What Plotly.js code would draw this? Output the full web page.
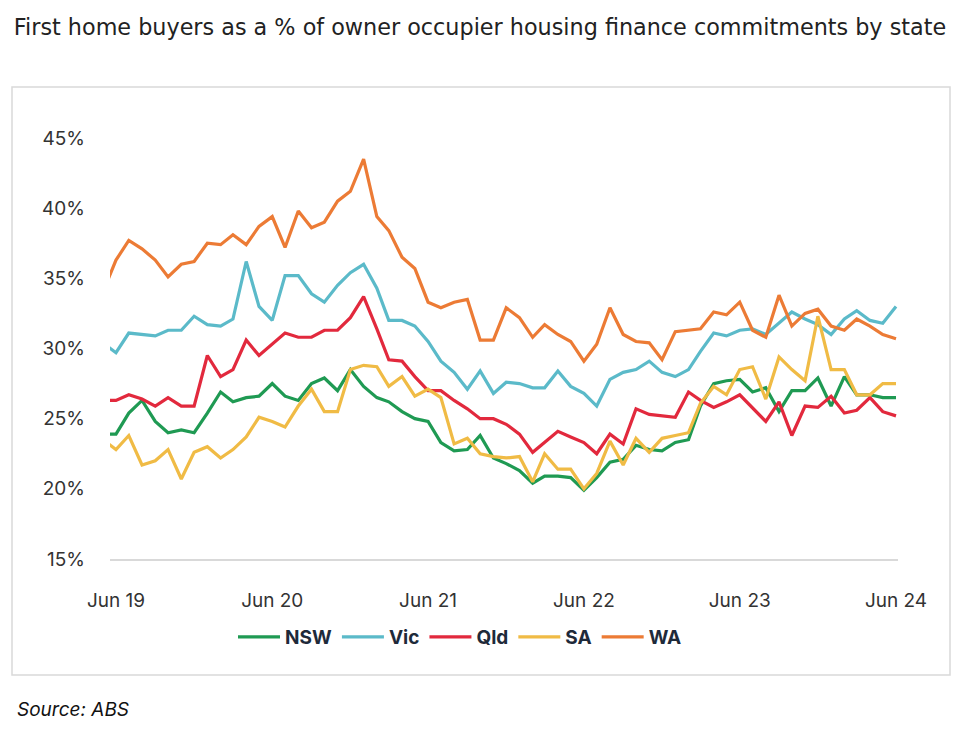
<!DOCTYPE html>
<html>
<head>
<meta charset="utf-8">
<script src="https://cdn.plot.ly/plotly-3.0.1.min.js"></script>
<style>
html, body { margin: 0; padding: 0; background: #ffffff; }
#chart { width: 966px; height: 738px; }
</style>
</head>
<body>
<div id="chart"></div>
<script>
// Monthly, May 2019 (partly clipped at left edge) to Jun 2024
const startYear = 2019, startMonth = 5, nMonths = 62;
const months = [];
for (let i = 0; i < nMonths; i++) {
  const m = startMonth - 1 + i;
  const y = startYear + Math.floor(m / 12);
  const mm = (m % 12) + 1;
  months.push(y + '-' + String(mm).padStart(2, '0') + '-01');
}

const seriesNames = ['NSW', 'Vic', 'Qld', 'SA', 'WA'];
const seriesColors = ['#1f9a53', '#5bbac9', '#e2293d', '#f0bb45', '#ec7b35'];

const NSW = [23.9,
  23.9, 25.4, 26.3, 24.8, 24.0, 24.2, 24.0, 25.4, 26.9, 26.2,
  26.5, 26.6, 27.5, 26.6, 26.3, 27.5, 27.9, 27.0, 28.5, 27.3,
  26.5, 26.2, 25.5, 25.0, 24.8, 23.3, 22.7, 22.8, 23.8, 22.2,
  21.8, 21.3, 20.4, 20.9, 20.9, 20.8, 19.9, 20.8, 21.9, 22.1,
  23.1, 22.8, 22.7, 23.3, 23.5, 25.9, 27.5, 27.7, 27.8, 26.9,
  27.2, 25.5, 27.0, 27.0, 27.9, 25.9, 28.0, 26.7, 26.7, 26.5, 26.5];
const Vic = [30.4,
  29.7, 31.1, 31.0, 30.9, 31.3, 31.3, 32.3, 31.7, 31.6, 32.1,
  36.2, 33.0, 32.0, 35.2, 35.2, 33.9, 33.3, 34.5, 35.4, 36.0,
  34.3, 32.0, 32.0, 31.6, 30.5, 29.1, 28.3, 27.1, 28.4, 26.8,
  27.6, 27.5, 27.2, 27.2, 28.4, 27.3, 26.8, 25.9, 27.8, 28.3,
  28.5, 29.1, 28.3, 28.0, 28.5, 29.8, 31.1, 30.9, 31.3, 31.4,
  31.0, 31.8, 32.6, 32.1, 31.7, 31.0, 32.1, 32.7, 32.0, 31.8, 33.0];
const Qld = [26.3,
  26.3, 26.7, 26.4, 25.9, 26.5, 25.9, 25.9, 29.5, 28.0, 28.5,
  30.6, 29.5, 30.3, 31.1, 30.8, 30.8, 31.3, 31.3, 32.2, 33.7,
  31.4, 29.2, 29.1, 28.0, 27.0, 27.0, 26.3, 25.7, 25.0, 25.0,
  24.6, 23.9, 22.6, 23.3, 24.1, 23.7, 23.3, 22.5, 23.9, 23.2,
  25.7, 25.3, 25.2, 25.1, 26.9, 26.3, 25.8, 26.2, 26.7, 25.8,
  24.8, 26.2, 23.8, 25.9, 25.8, 26.6, 25.4, 25.6, 26.5, 25.5, 25.2];
const SA = [23.5,
  22.8, 23.8, 21.7, 22.0, 22.8, 20.7, 22.6, 23.0, 22.2, 22.8,
  23.7, 25.1, 24.8, 24.4, 25.9, 27.1, 25.5, 25.5, 28.5, 28.8,
  28.7, 27.3, 28.0, 26.6, 27.1, 26.5, 23.2, 23.6, 22.5, 22.3,
  22.2, 22.3, 20.5, 22.5, 21.4, 21.4, 20.0, 21.1, 23.4, 21.7,
  23.6, 22.6, 23.6, 23.8, 24.0, 26.1, 27.3, 26.7, 28.5, 28.7,
  26.4, 29.4, 28.5, 27.7, 32.3, 28.5, 28.5, 26.7, 26.7, 27.5, 27.5];
const WA = [34.0,
  36.3, 37.7, 37.1, 36.3, 35.1, 36.0, 36.2, 37.5, 37.4, 38.1,
  37.4, 38.7, 39.4, 37.2, 39.8, 38.6, 39.0, 40.5, 41.2, 43.5,
  39.4, 38.4, 36.5, 35.7, 33.3, 32.9, 33.3, 33.5, 30.6, 30.6,
  32.9, 32.2, 30.8, 31.7, 31.0, 30.5, 29.1, 30.3, 32.9, 31.0,
  30.5, 30.4, 29.2, 31.2, 31.3, 31.4, 32.6, 32.4, 33.3, 31.3,
  30.8, 33.8, 31.6, 32.5, 32.8, 31.6, 31.3, 32.1, 31.6, 31.0, 30.7];

const xTickVals = ['2019-06-01', '2020-06-01', '2021-06-01', '2022-06-01', '2023-06-01', '2024-06-01'];
const xTickText = ['Jun 19', 'Jun 20', 'Jun 21', 'Jun 22', 'Jun 23', 'Jun 24'];
const yTickVals = [15, 20, 25, 30, 35, 40, 45];
const yTickText = ['15%', '20%', '25%', '30%', '35%', '40%', '45%'];

const allSeries = [NSW, Vic, Qld, SA, WA];
const traces = allSeries.map((vals, i) => ({
  type: 'scatter',
  mode: 'lines',
  x: months,
  y: vals,
  name: seriesNames[i],
  line: { color: seriesColors[i], width: 3.2 },
  hoverinfo: 'skip'
}));

const FONT = 'Inter, "Noto Sans", "Open Sans", sans-serif';
const TFONT = '"DejaVu Sans", Inter, sans-serif';
const L = 110, R = 68, T = 138, B = 179;
const PW = 966 - L - R, PH = 738 - T - B;
const px = (x) => (x - L) / PW;
const py = (y) => (738 - B - y) / PH;

const layout = {
  width: 966,
  height: 738,
  margin: { l: L, r: R, t: T, b: B, pad: 0 },
  paper_bgcolor: '#ffffff',
  plot_bgcolor: '#ffffff',
  font: { family: FONT, color: '#333333', size: 18 },
  title: {
    text: 'First home buyers as a % of owner occupier housing finance commitments by state',
    font: { family: TFONT, size: 22.3, color: '#222222' },
    x: 480 / 966, xanchor: 'center', xref: 'container',
    y: 1 - 27 / 738, yanchor: 'middle', yref: 'container'
  },
  xaxis: {
    type: 'date',
    range: ['2019-05-18', '2024-06-05 16:00'],
    tickvals: xTickVals,
    ticktext: xTickText,
    showgrid: false,
    zeroline: false,
    showline: true,
    linecolor: '#d9d9d9',
    linewidth: 1.5,
    ticks: '',
    ticklabelstandoff: 24,
    tickfont: { family: FONT, size: 19, color: '#333333' },
    fixedrange: true
  },
  yaxis: {
    range: [15, 45],
    tickvals: yTickVals,
    ticktext: yTickText,
    showgrid: false,
    zeroline: false,
    showline: false,
    ticks: '',
    ticklabelstandoff: 24,
    tickfont: { family: FONT, size: 19, color: '#333333' },
    fixedrange: true
  },
  showlegend: true,
  legend: {
    orientation: 'h',
    x: px(460), xanchor: 'center',
    y: py(637), yanchor: 'middle',
    itemwidth: 42,
    font: { family: FONT, size: 19, color: '#1e2a3a', weight: 'bold' },
    bgcolor: 'rgba(0,0,0,0)'
  },
  shapes: [{
    type: 'rect', xref: 'paper', yref: 'paper',
    x0: px(12), x1: px(950), y0: py(675), y1: py(87),
    line: { color: '#d9d9d9', width: 1.5 },
    fillcolor: 'rgba(0,0,0,0)', layer: 'below'
  }],
  annotations: [{
    text: '<i>Source: ABS</i>',
    xref: 'paper', yref: 'paper',
    x: px(15), xanchor: 'left',
    y: py(709), yanchor: 'middle',
    showarrow: false,
    font: { family: FONT, size: 19, color: '#111111' }
  }]
};

Plotly.newPlot('chart', traces, layout, { displayModeBar: false, staticPlot: true });
</script>
</body>
</html>
